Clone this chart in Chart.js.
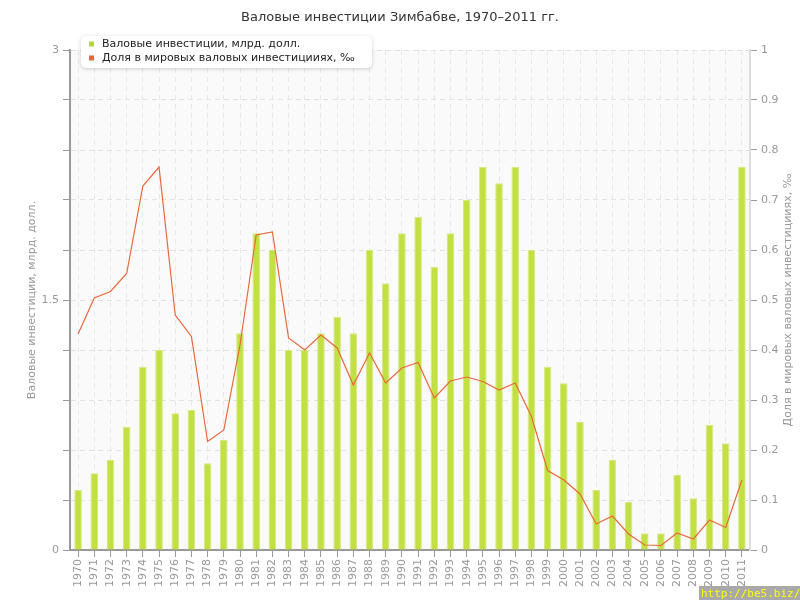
<!DOCTYPE html>
<html>
<head>
<meta charset="utf-8">
<script src="https://cdn.jsdelivr.net/npm/chart.js@4"></script>
<style>
  body{margin:0;background:#fff}
  #wrap{position:relative;width:800px;height:600px}
</style>
</head>
<body>
<div id="wrap"><canvas id="myChart" width="800" height="600"></canvas></div>
<script>
// years
const years=["1970","1971","1972","1973","1974","1975","1976","1977","1978","1979","1980","1981","1982","1983","1984","1985","1986","1987","1988","1989","1990","1991","1992","1993","1994","1995","1996","1997","1998","1999","2000","2001","2002","2003","2004","2005","2006","2007","2008","2009","2010","2011"]
// gross investment, bn USD
const investment=[0.36,0.46,0.54,0.74,1.10,1.20,0.82,0.84,0.52,0.66,1.30,1.90,1.80,1.20,1.20,1.30,1.40,1.30,1.80,1.60,1.90,2.00,1.70,1.90,2.10,2.30,2.20,2.30,1.80,1.10,1.00,0.77,0.36,0.54,0.29,0.10,0.10,0.45,0.31,0.75,0.64,2.30]
// share of world gross investment, per mille
const share=[0.432,0.504,0.517,0.553,0.728,0.766,0.470,0.427,0.217,0.240,0.410,0.630,0.636,0.424,0.400,0.430,0.404,0.330,0.394,0.334,0.364,0.375,0.304,0.338,0.346,0.337,0.320,0.334,0.267,0.159,0.140,0.112,0.052,0.068,0.032,0.010,0.009,0.034,0.022,0.060,0.045,0.140]

const leftTitle="Валовые инвестиции, млрд. долл."
const rightTitle="Доля в мировых валовых инвестицииях, ‰"
const FONT="'DejaVu Sans', Verdana, sans-serif"

const extras={
    id:"extras",
    beforeDraw(chart){
        const a=chart.chartArea, ctx=chart.ctx
        ctx.save()
        ctx.fillStyle="#fafafa"
        ctx.fillRect(a.left,a.top,a.right-a.left,a.bottom-a.top)
        ctx.restore()
    },
    afterDraw(chart){
        const ctx=chart.ctx
        ctx.save()
        // right axis title, reads bottom to top
        ctx.translate(788,300)
        ctx.rotate(-Math.PI/2)
        ctx.font="11px "+FONT
        ctx.fillStyle="#999"
        ctx.textAlign="center"
        ctx.textBaseline="middle"
        ctx.fillText(rightTitle,0,0)
        ctx.restore()

        // legend box
        ctx.save()
        ctx.shadowColor="rgba(0,0,0,0.18)"
        ctx.shadowBlur=4
        ctx.shadowOffsetY=1
        ctx.fillStyle="#fff"
        ctx.beginPath()
        ctx.roundRect(81,36,291,32,5)
        ctx.fill()
        ctx.restore()
        ctx.save()
        ctx.font="11px "+FONT
        ctx.textBaseline="middle"
        const ds=chart.data.datasets
        ds.forEach((d,i)=>{
            const y=44+i*14
            ctx.fillStyle=d.legendColor
            ctx.fillRect(89,y-2.5,5,5)
            ctx.fillStyle="#222"
            ctx.fillText(d.label,102,y)
        })
        ctx.restore()

        // watermark
        ctx.save()
        ctx.fillStyle="#a9a9a9"
        ctx.fillRect(699,586,101,14)
        ctx.font="11px 'DejaVu Sans Mono', monospace"
        ctx.fillStyle="#ffff00"
        ctx.textBaseline="middle"
        ctx.fillText("http://be5.biz/",701,594)
        ctx.restore()
    }
}

new Chart(document.getElementById("myChart"),{
    type:"bar",
    data:{
        labels:years,
        datasets:[{
            label:"Валовые инвестиции, млрд. долл.",
            data:investment,
            backgroundColor:"#c3e043",
            borderColor:"#d3ea80",
            borderWidth:1,
            legendColor:"#b6d92a",
            yAxisID:"y",
            categoryPercentage:1,
            barPercentage:0.47,
            order:1
        },{
            type:"line",
            label:"Доля в мировых валовых инвестицииях, ‰",
            data:share,
            borderColor:"#e8683c",
            legendColor:"#e8643a",
            borderWidth:1.2,
            pointRadius:0,
            tension:0,
            yAxisID:"y1",
            order:0
        }]
    },
    options:{
        responsive:false,
        animation:false,
        layout:{padding:0},
        plugins:{
            legend:{display:false},
            tooltip:{enabled:false},
            title:{
                display:true,
                text:"Валовые инвестиции Зимбабве, 1970–2011 гг.",
                color:"#333",
                font:{family:FONT,size:13,weight:"normal"},
                padding:{top:10,bottom:24.4}
            }
        },
        scales:{
            x:{
                z:1,
                offset:true,
                grid:{color:"rgba(228,228,228,0.8)",tickColor:"#999",tickLength:7,tickBorderDash:[],offset:false},
                border:{color:"#999",width:2,dash:[5,4]},
                ticks:{color:"#999",font:{family:FONT,size:11},minRotation:90,maxRotation:90,autoSkip:false,padding:2},
                afterFit(s){s.height=50}
            },
            y:{
                position:"left",
                min:0,max:3,
                ticks:{stepSize:0.3,color:"#999",font:{family:FONT,size:11},padding:4,
                    callback:(v,i)=>i%5==0?String(Math.round(v*10)/10):""},
                grid:{color:"#e2e2e2",tickColor:"#999",tickLength:7,tickBorderDash:[]},
                border:{color:"#999",width:2,dash:[5,4]},
                title:{display:true,text:leftTitle,color:"#999",font:{family:FONT,size:11},padding:{top:26,bottom:0}},
                afterFit(s){s.width=70}
            },
            y1:{
                position:"right",
                min:0,max:1,
                ticks:{stepSize:0.1,color:"#999",font:{family:FONT,size:11},padding:4,
                    callback:v=>String(Math.round(v*10)/10)},
                grid:{drawOnChartArea:false,tickColor:"#999",tickLength:7},
                border:{color:"#ddd",width:2},
                afterFit(s){s.width=50}
            }
        }
    },
    plugins:[extras]
})
</script>
</body>
</html>
